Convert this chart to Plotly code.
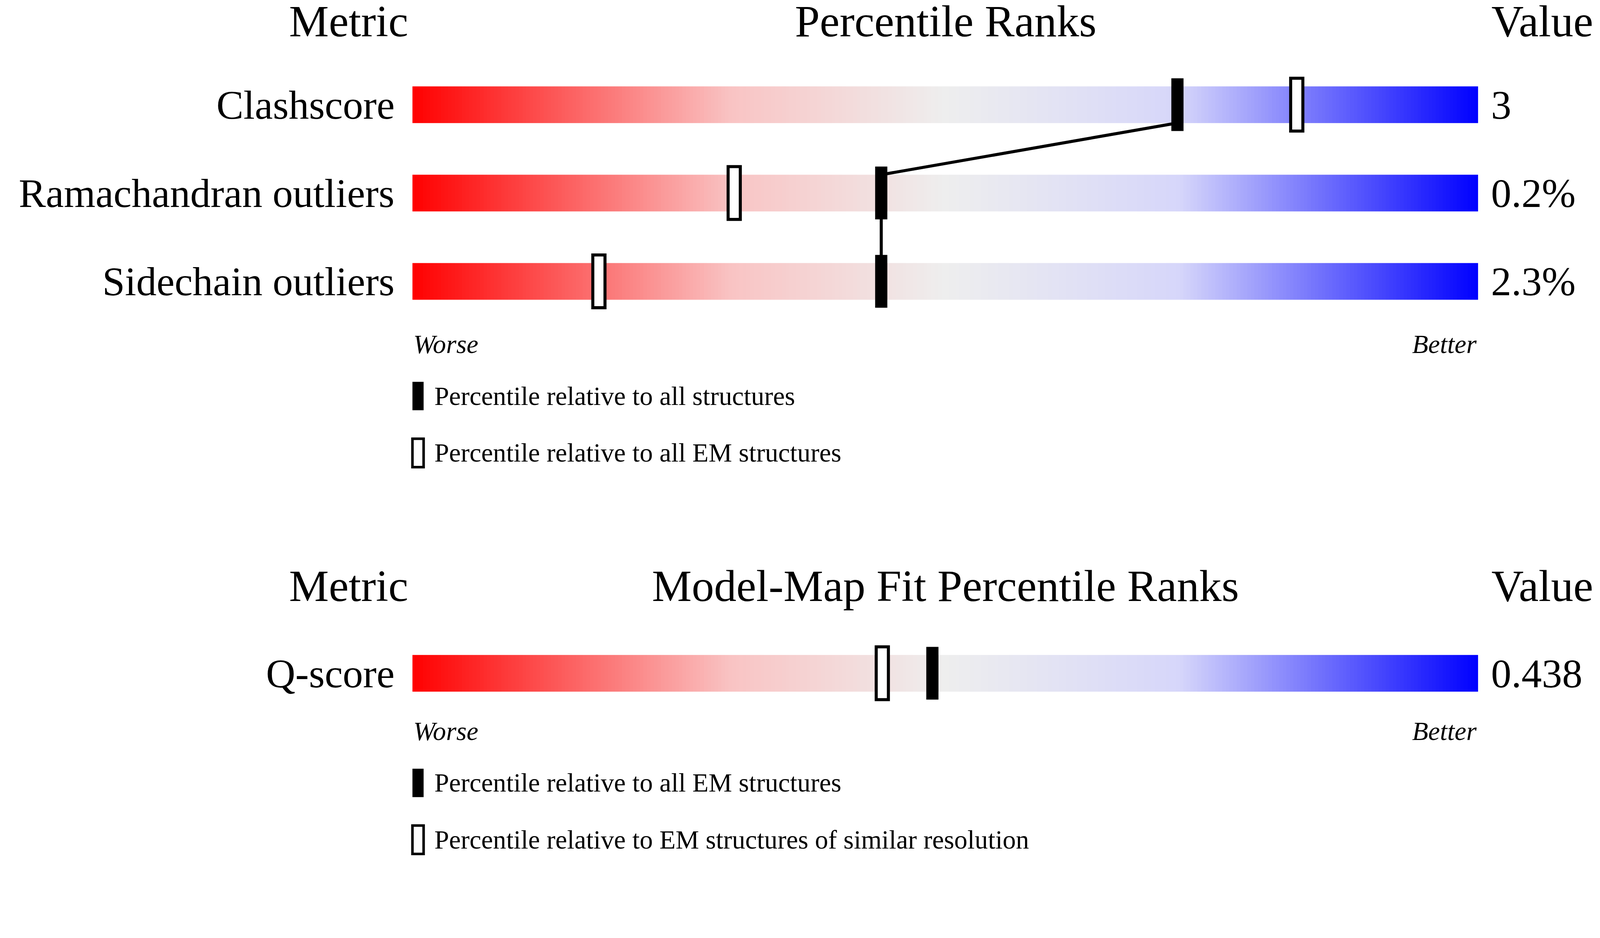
import numpy as np
import plotly.graph_objects as go

# values (percentile ranks 0-100)
metrics = ["Clashscore", "Ramachandran outliers", "Sidechain outliers"]
values = ["3", "0.2%", "2.3%"]
pct_all = [71.8, 44.0, 44.0]
pct_em = [83.0, 30.2, 17.5]

fit_metrics = ["Q-score"]
fit_values = ["0.438"]
fit_pct_em = [48.8]
fit_pct_res = [44.1]

# layout in "display pixels" of a 1568x840 sheet, scaled to the page size
W, H = 1568, 840
FIG_W, FIG_H = 4077, 2184
S = FIG_W / W
BX0, BX1 = 403, 1452


def px(x):
    return (x - BX0) / (BX1 - BX0) * 100


SERIF = "Liberation Serif"
fig = go.Figure()

cscale = [[0, "#ff0000"], [0.3, "#f9c4c4"], [0.5, "#eeeeee"],
          [0.72, "#d6d6fa"], [1, "#0000ff"]]
xs = np.linspace(0, 100, 301)
zc = (xs[:-1] + xs[1:]) / 2


def add_rows(names, vals, centers):
    for name, v, yc in zip(names, vals, centers):
        fig.add_trace(go.Heatmap(x=xs, y=[yc - 18, yc + 18], z=[zc], zmin=0, zmax=100,
                                 colorscale=cscale, showscale=False, hoverinfo="skip"))
        fig.add_annotation(x=px(386), y=yc, text=name, xanchor="right", showarrow=False,
                           font=dict(family=SERIF, size=40 * S, color="black"))
        fig.add_annotation(x=px(1464), y=yc, text=v, xanchor="left", showarrow=False,
                           font=dict(family=SERIF, size=40 * S, color="black"))


def marker(p, yc, filled):
    w = 12 / (BX1 - BX0) * 100
    fig.add_shape(type="rect", x0=p - w / 2, x1=p + w / 2, y0=yc - 26, y1=yc + 26,
                  fillcolor="black" if filled else "white",
                  line=dict(color="black", width=3 * S if not filled else 0))


def header(y, middle):
    f = dict(family=SERIF, size=44 * S, color="black")
    fig.add_annotation(x=px(340), y=y, text="Metric", showarrow=False, font=f)
    fig.add_annotation(x=px(928), y=y, text=middle, showarrow=False, font=f)
    fig.add_annotation(x=px(1566), y=y, text="Value", xanchor="right", showarrow=False, font=f)


def worse_better(y):
    f = dict(family=SERIF, size=26 * S, color="black")
    fig.add_annotation(x=0, y=y, text="<i>Worse</i>", xanchor="left", showarrow=False, font=f)
    fig.add_annotation(x=100, y=y, text="<i>Better</i>", xanchor="right", showarrow=False, font=f)


def legend_item(y, filled, text):
    fig.add_shape(type="rect", x0=px(403), x1=px(414), y0=y - 14, y1=y + 14,
                  fillcolor="black" if filled else "white",
                  line=dict(color="black", width=0 if filled else 2.5 * S))
    fig.add_annotation(x=px(424), y=y, text=text, xanchor="left", showarrow=False,
                       font=dict(family=SERIF, size=26 * S, color="black"))


# first panel
header(18, "Percentile Ranks")
rows = [100, 187, 274]
add_rows(metrics, values, rows)
for i in range(len(rows) - 1):
    fig.add_shape(type="line", x0=pct_all[i], y0=rows[i] + 18, x1=pct_all[i + 1], y1=rows[i + 1] - 18,
                  line=dict(color="black", width=3 * S))
for p, q, yc in zip(pct_all, pct_em, rows):
    marker(q, yc, False)
    marker(p, yc, True)
worse_better(336)
legend_item(387, True, "Percentile relative to all structures")
legend_item(443, False, "Percentile relative to all EM structures")

# second panel
header(574, "Model-Map Fit Percentile Ranks")
add_rows(fit_metrics, fit_values, [660])
for p, q in zip(fit_pct_em, fit_pct_res):
    marker(q, 660, False)
    marker(p, 660, True)
worse_better(717)
legend_item(768, True, "Percentile relative to all EM structures")
legend_item(824, False, "Percentile relative to EM structures of similar resolution")

fig.update_layout(
    width=FIG_W, height=FIG_H, margin=dict(l=0, r=0, t=0, b=0),
    paper_bgcolor="white", plot_bgcolor="white", showlegend=False,
    xaxis=dict(range=[px(0), px(W)], visible=False, fixedrange=True),
    yaxis=dict(range=[H, 0], visible=False, fixedrange=True),
)
fig.write_html("out.html")
